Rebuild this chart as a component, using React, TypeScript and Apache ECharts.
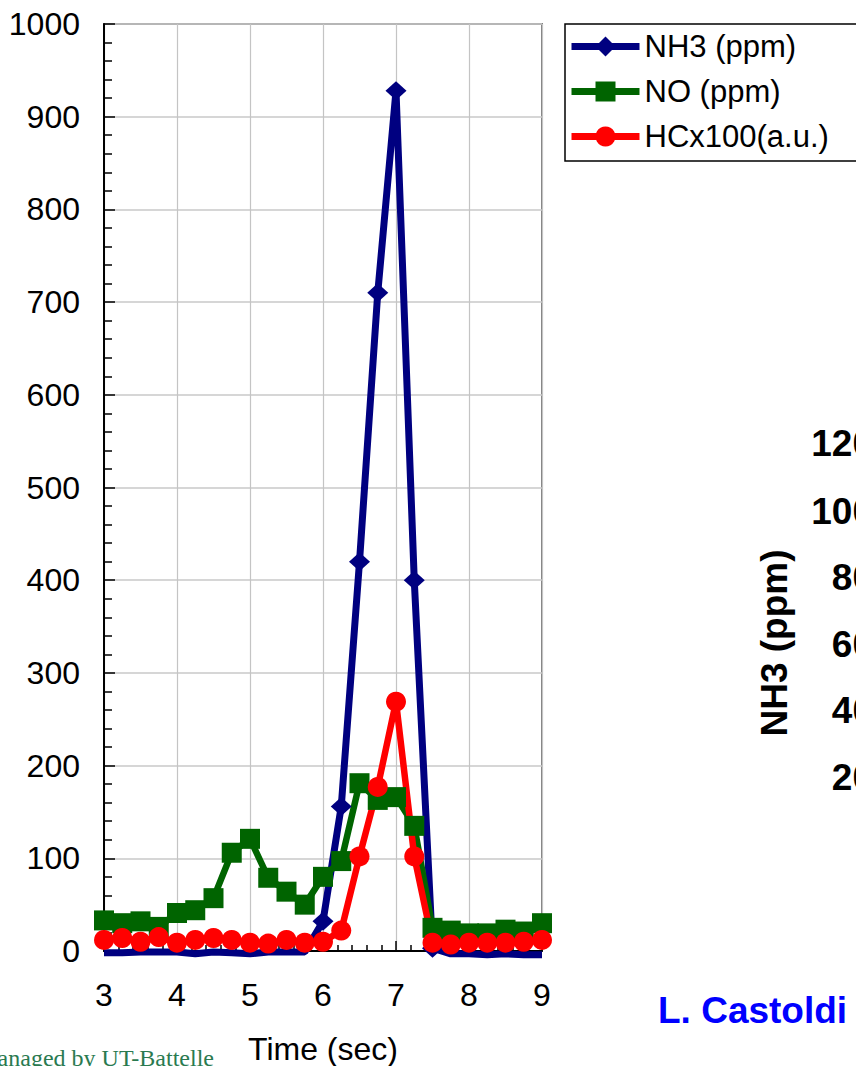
import React, { useEffect, useRef } from "react";
import * as echarts from "echarts";

// Sampling times (s), one point every 0.25 s
const timeSec = [
  3.0, 3.25, 3.5, 3.75, 4.0, 4.25, 4.5, 4.75, 5.0, 5.25, 5.5, 5.75, 6.0,
  6.25, 6.5, 6.75, 7.0, 7.25, 7.5, 7.75, 8.0, 8.25, 8.5, 8.75, 9.0,
];

// NH3 concentration (ppm)
const nh3Ppm = [
  -2, -2, -1, -1, -1, -3, -1, -2, -3, -1, -1, -1, 32,
  156, 420, 710, 928, 400, 3, -3, -3, -4, -3, -4, -4,
];

// NO concentration (ppm)
const noPpm = [
  33, 30, 32, 26, 41, 44, 57, 106, 121, 79, 64, 50, 80,
  97, 181, 163, 166, 135, 25, 22, 19, 19, 23, 21, 30,
];

// Hydrocarbons x100 (a.u.)
const hcAu = [
  12, 14, 10, 15, 9, 12, 14, 12, 9, 8, 12, 9, 10,
  22, 102, 177, 269, 102, 9, 7, 9, 9, 9, 10, 12,
];

const seriesNames = ["NH3 (ppm)", "NO (ppm)", "HCx100(a.u.)"];

// Labels of the neighbouring NH3 axis at the right edge
const sideAxisLabels = ["120", "100", "80", "60", "40", "20"];

const FONT = 'Arial, "Liberation Sans", Helvetica, sans-serif';

const pairs = (ys: number[]) => timeSec.map((t, i) => [t, ys[i]]);

export default function App() {
  const ref = useRef<HTMLDivElement>(null);

  useEffect(() => {
    document.body.style.margin = "0";
    if (!ref.current) return;
    const chart = echarts.init(ref.current, null, { renderer: "svg" });

    const sideLabelY = [443, 511, 577, 644, 710, 777];

    chart.setOption({
      animation: false,
      backgroundColor: "#ffffff",
      textStyle: { fontFamily: FONT },
      grid: {
        left: 104,
        right: 314,
        top: 24,
        bottom: 115,
        outerBoundsMode: "none",
        containLabel: false,
        show: true,
        borderColor: "#808080",
        borderWidth: 2,
        backgroundColor: "transparent",
      },
      xAxis: {
        type: "value",
        min: 3,
        max: 9,
        interval: 1,
        name: "Time (sec)",
        nameLocation: "middle",
        nameGap: 82,
        nameTextStyle: { fontSize: 32, color: "#000", fontFamily: FONT },
        axisLine: { show: true, onZero: false, lineStyle: { color: "#000", width: 2 } },
        axisTick: { show: true, inside: true, length: 10, lineStyle: { color: "#000", width: 1.5 } },
        minorTick: { show: true, splitNumber: 5, length: 6, lineStyle: { color: "#000", width: 1.5 } },
        axisLabel: { fontSize: 32, color: "#000", margin: 28, fontFamily: FONT },
        splitLine: { show: true, lineStyle: { color: "#c4c4c4", width: 1.2 } },
      },
      yAxis: {
        type: "value",
        min: 0,
        max: 1000,
        interval: 100,
        axisLine: { show: true, onZero: false, lineStyle: { color: "#000", width: 2 } },
        axisTick: { show: true, inside: true, length: 11, lineStyle: { color: "#000", width: 1.5 } },
        minorTick: { show: true, splitNumber: 5, length: 8, lineStyle: { color: "#000", width: 1.5 } },
        axisLabel: {
          fontSize: 32,
          color: "#000",
          margin: 24,
          fontFamily: FONT,
          formatter: (v: number) => String(v),
        },
        splitLine: { show: true, lineStyle: { color: "#c8c8c8", width: 1.5 } },
      },
      legend: {
        orient: "vertical",
        left: 568,
        top: 31,
        padding: 0,
        itemWidth: 68,
        itemHeight: 25,
        itemGap: 14,
        data: seriesNames,
        textStyle: { fontSize: 31, color: "#000", fontFamily: FONT },
        lineStyle: { width: 7 },
      },
      series: [
        {
          name: seriesNames[0],
          type: "line",
          data: pairs(nh3Ppm),
          clip: false,
          symbol: "diamond",
          // points that fall below the axis minimum carry no marker
          symbolSize: (v: number[]) => (v[1] < 0 ? 0 : [21, 19]),
          lineStyle: { color: "#000080", width: 7 },
          itemStyle: { color: "#000080" },
        },
        {
          name: seriesNames[1],
          type: "line",
          data: pairs(noPpm),
          clip: false,
          symbol: "rect",
          symbolSize: 20,
          lineStyle: { color: "#006400", width: 6.5 },
          itemStyle: { color: "#006400" },
        },
        {
          name: seriesNames[2],
          type: "line",
          data: pairs(hcAu),
          clip: false,
          symbol: "circle",
          symbolSize: 20,
          lineStyle: { color: "#ff0000", width: 6.5 },
          itemStyle: { color: "#ff0000" },
        },
      ],
      graphic: [
        // legend frame, running past the right edge
        {
          type: "rect",
          z: -1,
          shape: { x: 565, y: 24, width: 320, height: 137 },
          style: { fill: "#ffffff", stroke: "#000", lineWidth: 1.5 },
        },
        // rotated title of the neighbouring axis
        {
          type: "text",
          x: 774,
          y: 643,
          rotation: Math.PI / 2,
          style: {
            text: "NH3 (ppm)",
            fontSize: 37,
            fontWeight: "bold",
            fontFamily: FONT,
            fill: "#000",
            align: "center",
            verticalAlign: "middle",
            textAlign: "center",
            textVerticalAlign: "middle",
          },
        },
        ...sideAxisLabels.map((label, i) => ({
          type: "text",
          x: 873,
          y: sideLabelY[i],
          style: {
            text: label,
            fontSize: 37,
            fontWeight: "bold",
            fontFamily: FONT,
            fill: "#000",
            align: "right",
            verticalAlign: "middle",
            textAlign: "right",
            textVerticalAlign: "middle",
          },
        })),
        {
          type: "text",
          x: 658,
          y: 1010,
          style: {
            text: "L. Castoldi",
            fontSize: 37,
            fontWeight: "bold",
            fontFamily: FONT,
            fill: "#0000ff",
            align: "left",
            verticalAlign: "middle",
            textAlign: "left",
            textVerticalAlign: "middle",
          },
        },
        {
          type: "text",
          x: 214,
          y: 1058,
          style: {
            text: "Managed by UT-Battelle",
            fontSize: 24,
            fontFamily: '"Times New Roman", "Liberation Serif", serif',
            fill: "#2a7a50",
            align: "right",
            verticalAlign: "middle",
            textAlign: "right",
            textVerticalAlign: "middle",
          },
        },
      ],
    });

    return () => chart.dispose();
  }, []);

  return <div ref={ref} style={{ width: 856, height: 1066 }} />;
}
